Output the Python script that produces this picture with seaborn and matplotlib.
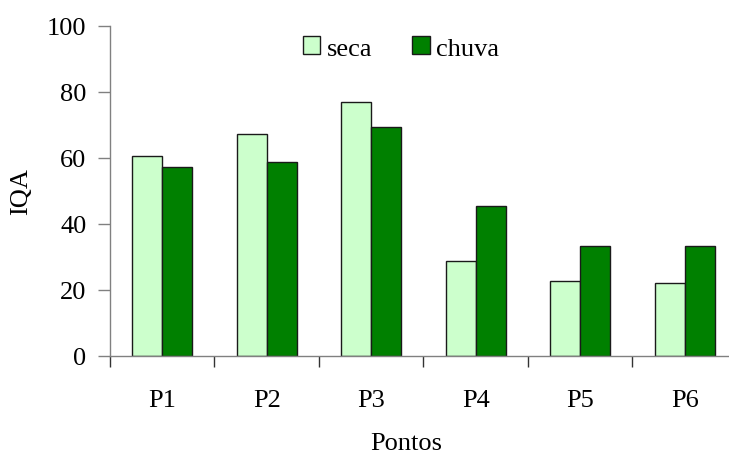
import pandas as pd
import matplotlib.pyplot as plt
import seaborn as sns
from matplotlib.ticker import FixedLocator

# dados
pontos = ['P1', 'P2', 'P3', 'P4', 'P5', 'P6']
seca = [60.6, 67.3, 76.9, 28.7, 22.7, 22.1]
chuva = [57.3, 58.6, 69.4, 45.5, 33.3, 33.3]
periodos = ['seca', 'chuva']
cores = ['#CCFFCC', '#008000']

df = pd.DataFrame({
    'Pontos': pontos * 2,
    'IQA': seca + chuva,
    'periodo': ['seca'] * len(pontos) + ['chuva'] * len(pontos),
})

sns.set_style("white")
plt.rcParams['font.family'] = ['Liberation Serif', 'DejaVu Serif']
plt.rcParams['text.color'] = 'black'
plt.rcParams['axes.labelcolor'] = 'black'
plt.rcParams['xtick.labelcolor'] = 'black'
plt.rcParams['ytick.labelcolor'] = 'black'

fig = plt.figure(figsize=(7.29, 4.56), dpi=100)
ax = fig.add_axes([110 / 729, 1 - 356.7 / 456, 627 / 729, 330 / 456])

sns.barplot(data=df, x='Pontos', y='IQA', hue='periodo', hue_order=periodos,
            palette=cores, width=0.575, edgecolor='#1a1a1a', linewidth=1.0,
            saturation=1, ax=ax)

ax.set_xlim(-0.5, 5.5)
ax.set_ylim(0, 100)
ax.set_yticks([0, 20, 40, 60, 80, 100])

# ticks do eixo x entre as categorias
ax.xaxis.set_minor_locator(FixedLocator([i - 0.5 for i in range(len(pontos) + 1)]))
ax.tick_params(axis='x', which='major', length=0, pad=24, labelsize=19)
ax.tick_params(axis='x', which='minor', length=8, width=1, color='#333333', direction='out', bottom=True)
ax.tick_params(axis='y', which='major', length=9, width=1, color='#808080', direction='out', left=True, pad=8, labelsize=19)

for s in ['top', 'right']:
    ax.spines[s].set_visible(False)
for s in ['left', 'bottom']:
    ax.spines[s].set_color('#808080')
    ax.spines[s].set_linewidth(1)

ax.set_xlabel('Pontos', fontsize=19, labelpad=15, x=0.472)
ax.set_ylabel('IQA', fontsize=19)
ax.yaxis.set_label_coords(-0.124, 0.5)

handles, labels = ax.get_legend_handles_labels()
ax.legend(handles, labels, loc='center', bbox_to_anchor=(401 / 729, 1 - 49 / 456),
          bbox_transform=fig.transFigure, ncol=2, frameon=False, fontsize=19,
          borderpad=0, handlelength=0.67, handleheight=0.67, handletextpad=0.25,
          columnspacing=1.5)

fig.savefig('out.png', dpi=100)
